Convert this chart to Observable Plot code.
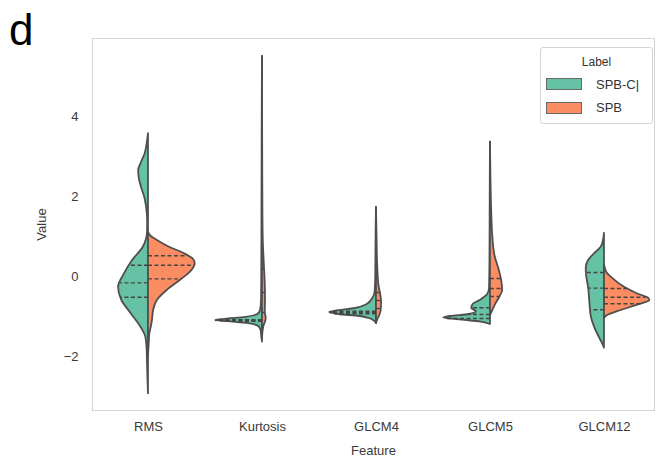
<!DOCTYPE html>
<html>
<head>
<meta charset="utf-8">
<script src="https://cdn.jsdelivr.net/npm/d3@7"></script>
<script src="https://cdn.jsdelivr.net/npm/@observablehq/plot@0.6"></script>
<style>
  body { margin: 0; background: #fff; font-family: Arial, "Liberation Sans", sans-serif; }
  #wrap { position: relative; width: 659px; height: 460px; }
  #panel { position: absolute; left: 9px; top: 8px; font-size: 44px; line-height: 44px; color: #000; }
  #legend { position: absolute; left: 540px; top: 47px; width: 113px; height: 77px; box-sizing: border-box;
            border: 1px solid #d4d4d4; border-radius: 3px; background: #fff; color: #333; }
  #legend .title { position: absolute; left: 0; width: 100%; top: 6px; text-align: center; font-size: 12px; line-height: 16px; }
  #legend .sw { position: absolute; left: 5px; width: 36px; height: 12px; box-sizing: border-box; border: 1px solid #6a6a6a; }
  #legend .txt { position: absolute; left: 55px; font-size: 13px; line-height: 16px; }
</style>
</head>
<body>
<div id="wrap"><div id="panel">d</div></div>
<script>
// Feature categories and group labels
const features = ["RMS", "Kurtosis", "GLCM4", "GLCM5", "GLCM12"];
const labels = ["SPB-C|", "SPB"];
const colors = ["#66c2a5", "#fc8d62"];
const yTicks = [-2, 0, 2, 4];

// Density profiles per feature and group: [value, relative half-width]
const rmsSpbc = [[3.57,0],[3.3,0.03],[3.07,0.07],[2.82,0.16],[2.65,0.21],[2.48,0.2],[2.23,0.15],[1.98,0.08],[1.73,0.04],[1.4,0.017],[1.1,0.02],[0.9,0.05],[0.73,0.11],[0.4,0.34],[0.07,0.51],[-0.27,0.64],[-0.6,0.57],[-0.93,0.37],[-1.27,0.16],[-1.52,0.055],[-1.8,0.03],[-2.2,0.02],[-2.6,0.01],[-2.93,0]];
const rmsSpb = [[1.1,0],[1.0,0.06],[0.9,0.19],[0.73,0.45],[0.57,0.77],[0.42,0.97],[0.32,1.0],[0.15,0.93],[-0.1,0.68],[-0.35,0.4],[-0.6,0.19],[-0.85,0.11],[-1.1,0.085],[-1.27,0.06],[-1.43,0.03],[-1.7,0.015],[-2.0,0]];
const kurtSpbc = [[5.5,0],[4,0.005],[2,0.01],[0,0.015],[-0.6,0.02],[-0.85,0.04],[-0.95,0.1],[-1.02,0.35],[-1.07,0.8],[-1.1,1.0],[-1.13,0.75],[-1.18,0.3],[-1.25,0.08],[-1.35,0.03],[-1.5,0.015],[-1.64,0]];
const kurtSpb = [[5.5,0],[3,0.005],[1.5,0.01],[0.8,0.02],[0.3,0.04],[-0.2,0.06],[-0.6,0.065],[-0.9,0.06],[-1.05,0.08],[-1.12,0.07],[-1.25,0.03],[-1.4,0.01],[-1.55,0]];
const glcm4Spbc = [[1.73,0],[1.0,0.008],[0,0.015],[-0.4,0.03],[-0.55,0.08],[-0.7,0.2],[-0.8,0.45],[-0.87,0.9],[-0.9,1.0],[-0.95,0.8],[-1.0,0.35],[-1.05,0.15],[-1.12,0.04],[-1.18,0]];
const glcm4Spb = [[1.73,0],[1.0,0.012],[0.3,0.025],[-0.2,0.05],[-0.45,0.09],[-0.65,0.11],[-0.85,0.1],[-0.95,0.08],[-1.05,0.04],[-1.18,0]];
const glcm5Spbc = [[3.36,0],[2,0.005],[0.5,0.01],[-0.3,0.02],[-0.45,0.06],[-0.6,0.22],[-0.7,0.37],[-0.8,0.4],[-0.88,0.3],[-0.95,0.45],[-1.0,0.85],[-1.04,1.0],[-1.09,0.6],[-1.14,0.2],[-1.2,0]];
const glcm5Spb = [[3.36,0],[2.5,0.01],[1.5,0.03],[1.0,0.05],[0.5,0.1],[0.15,0.19],[-0.1,0.24],[-0.35,0.26],[-0.52,0.2],[-0.68,0.12],[-0.85,0.05],[-0.98,0]];
const glcm12Spbc = [[1.08,0],[0.9,0.02],[0.73,0.07],[0.57,0.21],[0.4,0.34],[0.2,0.39],[0.0,0.38],[-0.27,0.34],[-0.68,0.31],[-1.02,0.28],[-1.27,0.21],[-1.52,0.11],[-1.68,0.04],[-1.79,0]];
const glcm12Spb = [[0.3,0],[0.1,0.05],[-0.02,0.15],[-0.27,0.43],[-0.43,0.7],[-0.55,0.95],[-0.6,0.97],[-0.72,0.7],[-0.85,0.36],[-0.98,0.06],[-1.05,0]];

// Quartiles [q1, median, q3] per feature
const spbcQuartiles = [[-0.52,-0.16,0.28],[-1.12,-1.1,-1.08],[-0.93,-0.9,-0.87],[-1.05,-0.95,-0.78],[-0.83,-0.29,0.1]];
const spbQuartiles  = [[-0.06,0.28,0.52],[-0.9,-0.4,0.2],[-0.8,-0.6,-0.4],[-0.5,-0.3,-0.05],[-0.68,-0.52,-0.3]];

const profiles = [[rmsSpbc, rmsSpb],[kurtSpbc, kurtSpb],[glcm4Spbc, glcm4Spb],[glcm5Spbc, glcm5Spb],[glcm12Spbc, glcm12Spb]];
const quartiles = [spbcQuartiles, spbQuartiles];
const halfWidth = 0.41; // max half-width of a violin, in category units

const side = j => (j === 0 ? -1 : 1);

// Outline rows for every half violin
const rows = [];
profiles.forEach((pair, i) => pair.forEach((prof, j) => {
  prof.slice().sort((a, b) => a[0] - b[0]).forEach(([v, d]) => {
    rows.push({key: `${i}-${j}`, label: labels[j], center: i, v, edge: i + side(j) * halfWidth * d});
  });
}));

// Width of a half violin at a given value
function widthAt(prof, v) {
  const p = prof.slice().sort((a, b) => a[0] - b[0]);
  for (let k = 1; k < p.length; k++) {
    if (v <= p[k][0]) {
      const t = (v - p[k-1][0]) / (p[k][0] - p[k-1][0]);
      return p[k-1][1] + t * (p[k][1] - p[k-1][1]);
    }
  }
  return 0;
}

const qrows = [];
quartiles.forEach((qs, j) => qs.forEach((q, i) => q.forEach(v => {
  qrows.push({v, x1: i, x2: i + side(j) * halfWidth * widthAt(profiles[i][j], v)});
})));

const chart = Plot.plot({
  width: 659,
  height: 460,
  marginLeft: 92,
  marginRight: 5,
  marginTop: 38,
  marginBottom: 50,
  style: {fontFamily: "Arial, 'Liberation Sans', sans-serif", fontSize: "13px", color: "#3a3a3a", background: "transparent"},
  x: {domain: [-0.491, 4.439]},
  y: {domain: [-3.35, 5.95]},
  color: {domain: labels, range: colors},
  marks: [
    Plot.frame({stroke: "#d4d4d4"}),
    Plot.axisX({ticks: features.map((_, i) => i), tickFormat: i => features[i], tickSize: 0, tickPadding: 11,
                label: "Feature", labelAnchor: "center", labelArrow: "none", labelOffset: 44}),
    Plot.axisY({ticks: yTicks, tickSize: 0, tickPadding: 14,
                label: "Value", labelAnchor: "center", labelArrow: "none", labelOffset: 56}),
    Plot.areaX(rows, {y: "v", x1: "center", x2: "edge", z: "key", fill: "label",
                      stroke: "#4f4f4f", strokeWidth: 1.8, strokeLinejoin: "round", curve: "monotone-y"}),
    Plot.ruleY(qrows, {y: "v", x1: "x1", x2: "x2", stroke: "#444", strokeWidth: 1.4, strokeDasharray: "4,2.5"})
  ]
});

const wrap = document.getElementById("wrap");
wrap.insertBefore(chart, wrap.firstChild);

// Legend box
const legend = document.createElement("div");
legend.id = "legend";
legend.innerHTML = `<div class="title">Label</div>` +
  labels.map((l, j) => `<div class="sw" style="top:${30 + 24 * j}px;background:${colors[j]}"></div>` +
                       `<div class="txt" style="top:${29 + 23 * j}px">${l}</div>`).join("");
wrap.appendChild(legend);
</script>
</body>
</html>
